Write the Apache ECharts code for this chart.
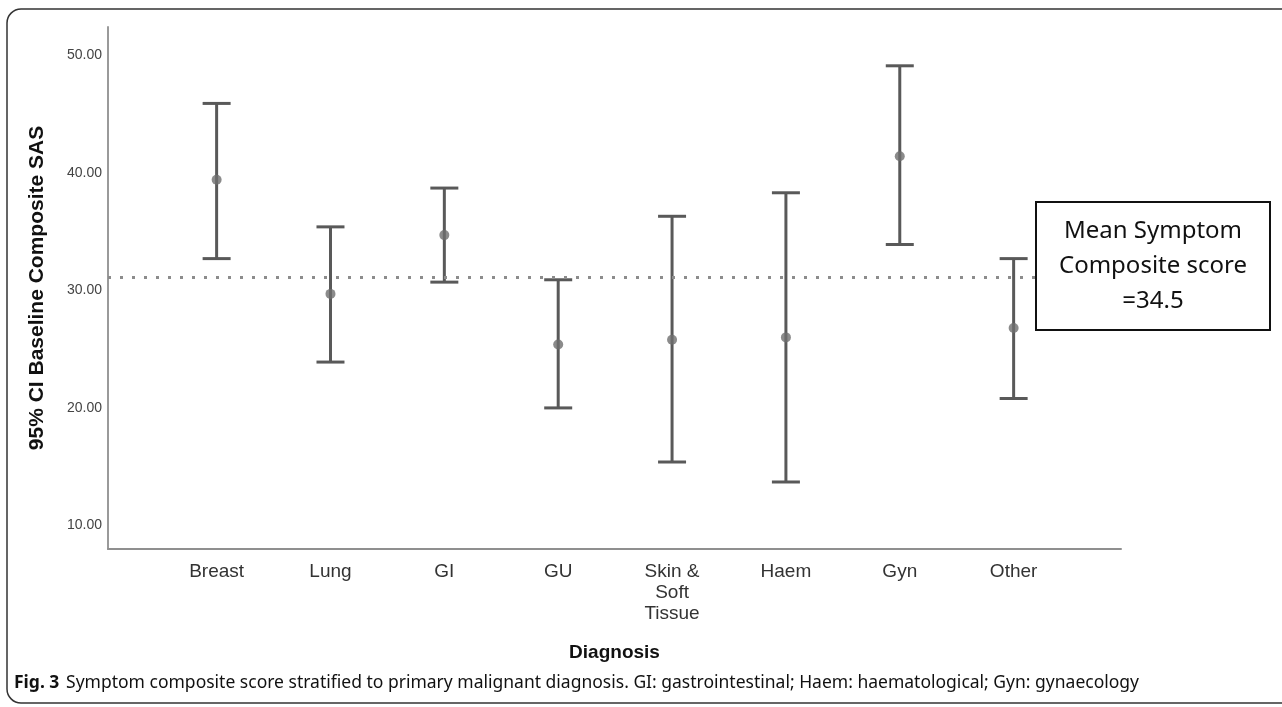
<!DOCTYPE html>
<html>
<head>
<meta charset="utf-8">
<script src="https://cdn.jsdelivr.net/npm/echarts@6/dist/echarts.min.js"></script>
<style>
  html, body { margin: 0; padding: 0; background: #fff; }
  #chart { width: 1282px; height: 707px; }
</style>
</head>
<body>
<div id="chart"></div>
<script>
// values
const categories = ['Breast', 'Lung', 'GI', 'GU', 'Skin &\nSoft\nTissue', 'Haem', 'Gyn', 'Other'];
const means = [39.4, 29.7, 34.7, 25.4, 25.8, 26.0, 41.4, 26.8];
const lower = [32.7, 23.9, 30.7, 20.0, 15.4, 13.7, 33.9, 20.8];
const upper = [45.9, 35.4, 38.7, 30.9, 36.3, 38.3, 49.1, 32.7];
const yTicks = [10, 20, 30, 40, 50];
const meanLine = 31.1;

const chart = echarts.init(document.getElementById('chart'));

const barColor = '#595959';

const option = {
  animation: false,
  grid: {left: 108, right: 161, top: 27, bottom: 158},
  xAxis: {
    type: 'value',
    min: -0.954,
    max: 7.943,
    axisLine: {show: true, onZero: false, lineStyle: {color: '#8f8f8f', width: 2}},
    axisTick: {show: false},
    splitLine: {show: false},
    axisLabel: {
      customValues: categories.map((c, i) => i),
      formatter: v => categories[v],
      fontFamily: 'Liberation Sans',
      fontSize: 19,
      lineHeight: 21,
      color: '#333',
      margin: 12
    },
    name: 'Diagnosis',
    nameLocation: 'middle',
    nameGap: 94,
    nameTextStyle: {fontFamily: 'Liberation Sans', fontWeight: 'bold', fontSize: 19, color: '#111'}
  },
  yAxis: {
    type: 'value',
    min: 8,
    max: 52.4,
    axisLine: {show: true, onZero: false, lineStyle: {color: '#9a9a9a', width: 2}},
    axisTick: {show: false},
    splitLine: {show: false},
    axisLabel: {
      customValues: yTicks,
      formatter: v => v.toFixed(2),
      fontFamily: 'Liberation Sans',
      fontSize: 14,
      color: '#444',
      margin: 6
    },
    name: '95% CI Baseline Composite SAS',
    nameLocation: 'middle',
    nameGap: 60,
    nameTextStyle: {fontFamily: 'Liberation Sans', fontWeight: 'bold', fontSize: 21, color: '#111'}
  },
  series: [
    {
      type: 'custom',
      data: categories.map((c, i) => [i, lower[i], upper[i]]),
      encode: {x: 0, y: [1, 2]},
      renderItem: (params, api) => {
        const x = api.value(0);
        const lo = api.coord([x, api.value(1)]);
        const hi = api.coord([x, api.value(2)]);
        const half = 14;
        const style = {stroke: barColor, lineWidth: 3};
        return {
          type: 'group',
          children: [
            {type: 'line', shape: {x1: lo[0], y1: lo[1], x2: hi[0], y2: hi[1]}, style: style},
            {type: 'line', shape: {x1: lo[0] - half, y1: lo[1], x2: lo[0] + half, y2: lo[1]}, style: style},
            {type: 'line', shape: {x1: hi[0] - half, y1: hi[1], x2: hi[0] + half, y2: hi[1]}, style: style}
          ]
        };
      },
      z: 3
    },
    {
      type: 'scatter',
      data: means.map((m, i) => [i, m]),
      symbolSize: 10,
      itemStyle: {color: '#6e6e6e'},
      z: 4,
      markLine: {
        silent: true,
        symbol: 'none',
        label: {show: false},
        lineStyle: {type: [3, 9], color: '#8c8c8c', width: 3},
        data: [{yAxis: meanLine}]
      }
    }
  ],
  graphic: [
    {
      type: 'rect',
      z: 100,
      shape: {x: 7, y: 9, width: 1300, height: 694, r: 14},
      style: {fill: 'none', stroke: '#333', lineWidth: 1.5}
    },
    {
      type: 'rect',
      z: 100,
      shape: {x: 1036, y: 202, width: 234, height: 128},
      style: {fill: '#fff', stroke: '#111', lineWidth: 2}
    },
    {
      type: 'text',
      z: 101,
      x: 1153,
      y: 266,
      style: {
        text: 'Mean Symptom\nComposite score\n=34.5',
        fontFamily: 'Noto Sans',
        fontSize: 24,
        lineHeight: 35,
        fill: '#111',
        align: 'center',
        verticalAlign: 'middle'
      }
    },
    {
      type: 'text',
      z: 101,
      x: 14,
      y: 683,
      style: {
        text: '{b|Fig. 3}  {n|Symptom composite score stratified to primary malignant diagnosis. GI: gastrointestinal; Haem: haematological; Gyn: gynaecology}',
        verticalAlign: 'middle',
        rich: {
          b: {fontFamily: 'Noto Sans', fontWeight: 'bold', fontSize: 17.5, fill: '#111'},
          n: {fontFamily: 'Noto Sans', fontSize: 17.5, fill: '#111'}
        }
      }
    }
  ]
};

chart.setOption(option);
</script>
</body>
</html>
